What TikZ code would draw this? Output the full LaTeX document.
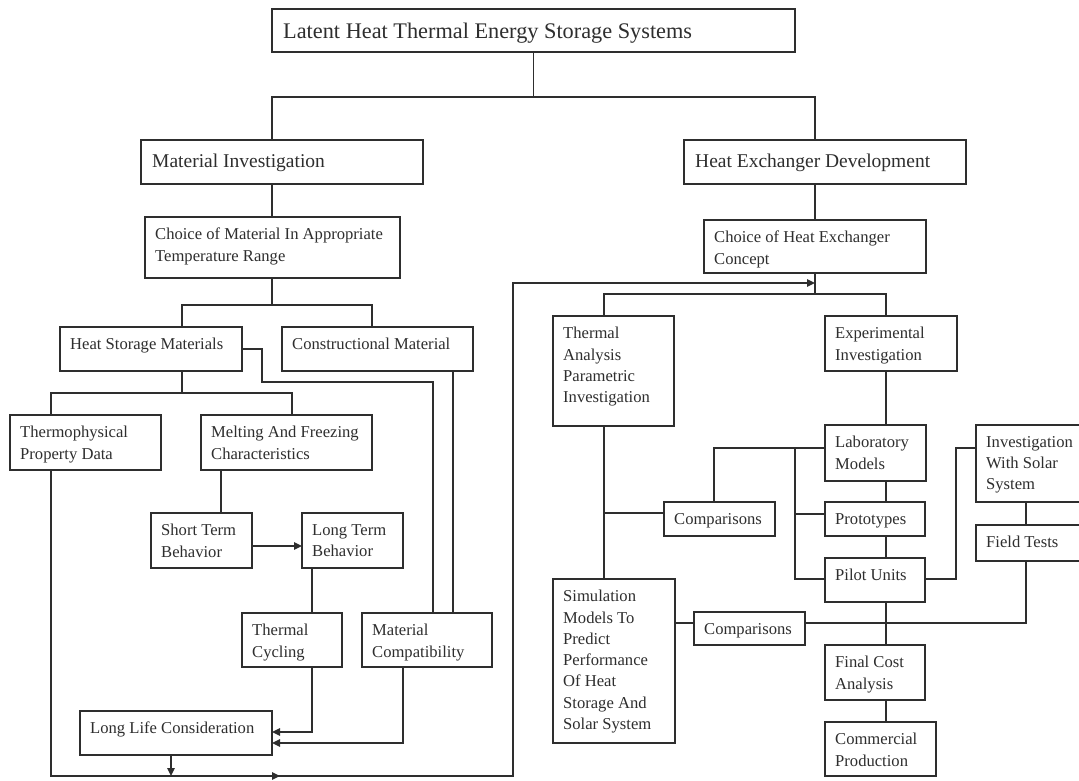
\documentclass[tikz,border=0pt]{standalone}
\usepackage{fontspec}
\setmainfont{Liberation Serif}
\usetikzlibrary{arrows.meta}
\definecolor{ink}{HTML}{2E2E2E}

% \mkbox{name}{x1}{y1}{x2}{y2}{text style}{text}
\newcommand\mkbox[7]{%
  \node[boxst, minimum width={(#4-#2)*1pt}, minimum height={(#5-#3)*1pt}] (#1) at (#2,#3) {};
  \node[txt, #6] (#1-t) at (#1.north west) {#7};
}

\begin{document}
\begin{tikzpicture}[x=1pt, y=-1pt,
  boxst/.style={draw=ink, line width=1.5pt, inner sep=0pt, outer sep=0pt, anchor=north west},
  txt/.style={anchor=north west, align=left, inner sep=0pt, text=ink},
  small/.style={font=\fontsize{16.6}{21.3}\selectfont, xshift=10pt, yshift=-11pt},
  mid/.style={font=\fontsize{19.5}{24}\selectfont, xshift=11pt, yshift=-13.4pt},
  big/.style={font=\fontsize{22.3}{27}\selectfont, xshift=11pt, yshift=-14pt},
  link/.style={draw=ink, line width=1.5pt},
  arr/.style={link, -{Triangle[length=8pt,width=7.5pt]}}
]
\useasboundingbox[fill=white] (0,0) rectangle (1079,780);

% ---------- boxes ----------
\mkbox{title}{272}{9}{795}{52}{big}{Latent Heat Thermal Energy Storage Systems}
\mkbox{mi}{141}{140}{423}{184}{mid}{Material Investigation}
\mkbox{hed}{684}{140}{966}{184}{mid}{Heat Exchanger Development}
\mkbox{cmat}{145}{217}{400}{278}{small}{Choice of Material In Appropriate\\Temperature Range}
\mkbox{che}{704}{220}{926}{273}{small}{Choice of Heat Exchanger\\Concept}

\mkbox{hsm}{60}{327}{242}{371}{small}{Heat Storage Materials}
\mkbox{cons}{282}{327}{473}{371}{small}{Constructional Material}
\mkbox{thermo}{10}{415}{161}{470}{small}{Thermophysical\\Property Data}
\mkbox{melt}{201}{415}{372}{470}{small}{Melting And Freezing\\Characteristics}
\mkbox{stb}{151}{513}{252}{568}{small}{Short Term\\Behavior}
\mkbox{ltb}{302}{513}{403}{568}{small}{Long Term\\Behavior}
\mkbox{tcyc}{242}{613}{342}{667}{small}{Thermal\\Cycling}
\mkbox{mcomp}{362}{613}{492}{667}{small}{Material\\Compatibility}
\mkbox{llc}{80}{711}{272}{755}{small}{Long Life Consideration}

\mkbox{tapi}{553}{316}{674}{426}{small}{Thermal\\Analysis\\Parametric\\Investigation}
\mkbox{exp}{825}{316}{957}{371}{small}{Experimental\\Investigation}
\mkbox{lab}{825}{425}{926}{481}{small}{Laboratory\\Models}
\mkbox{comp1}{664}{502}{775}{536}{small}{Comparisons}
\mkbox{proto}{825}{502}{925}{536}{small}{Prototypes}
\mkbox{pilot}{825}{558}{925}{602}{small}{Pilot Units}
\mkbox{iss}{976}{425}{1083}{502}{small}{Investigation\\With Solar\\System}
\mkbox{ftest}{976}{525}{1083}{561}{small}{Field Tests}
\mkbox{sim}{553}{579}{675}{743}{small}{Simulation\\Models To\\Predict\\Performance\\Of Heat\\Storage And\\Solar System}
\mkbox{comp2}{694}{612}{805}{645}{small}{Comparisons}
\mkbox{fca}{825}{645}{925}{700}{small}{Final Cost\\Analysis}
\mkbox{cprod}{825}{722}{936}{776}{small}{Commercial\\Production}

% ---------- top level ----------
\coordinate (jL) at (272,97);
\coordinate (jR) at (815,97);
\coordinate (j0) at (title.south |- jL);
\draw[link] (title.south) -- (j0);
\draw[link] (mi.north -| jL) -- (jL) -- (jR) -- (hed.north -| jR);
\draw[link] (mi.south -| jL) -- (cmat.north -| jL);
\draw[link] (hed.south -| jR) -- (che.north -| jR);

% ---------- material branch ----------
\coordinate (a0) at (272,305);
\coordinate (a1) at (182,305);
\coordinate (a2) at (372,305);
\draw[link] (cmat.south -| a0) -- (a0);
\draw[link] (hsm.north -| a1) -- (a1) -- (a2) -- (cons.north -| a2);

\coordinate (b0) at (182,393);
\coordinate (b1) at (51,393);
\coordinate (b2) at (292,393);
\draw[link] (hsm.south -| b0) -- (b0);
\draw[link] (thermo.north -| b1) -- (b1) -- (b2) -- (melt.north -| b2);

\coordinate (c1) at (262,382);
\coordinate (c2) at (433,382);
\draw[link] (hsm.east) -| (c1) -- (c2) -- (mcomp.north -| c2);
\coordinate (c3) at (453,400);
\draw[link] (cons.south -| c3) -- (mcomp.north -| c3);

\coordinate (d0) at (221,490);
\draw[link] (melt.south -| d0) -- (stb.north -| d0);
\coordinate (d1) at (260,546);
\draw[arr] (stb.east |- d1) -- (ltb.west |- d1);
\coordinate (d2) at (312,590);
\draw[link] (ltb.south -| d2) -- (tcyc.north -| d2);

\coordinate (e1) at (312,732);
\coordinate (e2) at (403,743);
\draw[arr] (tcyc.south -| e1) -- (e1) -- (llc.east |- e1);
\draw[arr] (mcomp.south -| e2) -- (e2) -- (llc.east |- e2);

% ---------- feedback loop to the heat exchanger branch ----------
\coordinate (f1) at (51,776);
\coordinate (f2) at (513,776);
\coordinate (f3) at (513,283);
\coordinate (fm) at (280,776);
\coordinate (fl) at (171,776);
\draw[arr] (thermo.south -| f1) -- (f1) -- (f2) -- (f3) -- (che.south |- f3);
\draw[arr] (f1) -- (fm);
\draw[arr] (llc.south -| fl) -- (fl);

% ---------- heat exchanger branch ----------
\coordinate (g0) at (815,294);
\coordinate (g1) at (604,294);
\coordinate (g2) at (886,294);
\draw[link] (che.south) -- (g0);
\draw[link] (tapi.north -| g1) -- (g1) -- (g2) -- (exp.north -| g2);
\draw[link] (tapi.south -| g1) -- (sim.north -| g1);

\coordinate (h0) at (604,513);
\draw[link] (h0) -- (comp1.west |- h0);
\coordinate (h1) at (714,448);
\coordinate (h2) at (795,448);
\coordinate (h3) at (795,579);
\coordinate (h4) at (795,514);
\draw[link] (comp1.north -| h1) -- (h1) -- (lab.west |- h1);
\draw[link] (h2) -- (h3) -- (pilot.west |- h3);
\draw[link] (h4) -- (proto.west |- h4);

\coordinate (v0) at (886,500);
\draw[link] (exp.south -| v0) -- (lab.north -| v0);
\draw[link] (lab.south -| v0) -- (proto.north -| v0);
\draw[link] (proto.south -| v0) -- (pilot.north -| v0);
\draw[link] (pilot.south -| v0) -- (fca.north -| v0);
\draw[link] (fca.south -| v0) -- (cprod.north -| v0);

\coordinate (p1) at (956,579);
\coordinate (p2) at (956,448);
\draw[link] (pilot.east |- p1) -- (p1) -- (p2) -- (iss.west |- p2);
\coordinate (q0) at (1026,540);
\draw[link] (iss.south -| q0) -- (ftest.north -| q0);
\coordinate (q1) at (1026,623);
\draw[link] (ftest.south -| q1) -- (q1) -- (comp2.east |- q1);
\draw[link] (sim.east |- q1) -- (comp2.west |- q1);
\end{tikzpicture}
\end{document}
